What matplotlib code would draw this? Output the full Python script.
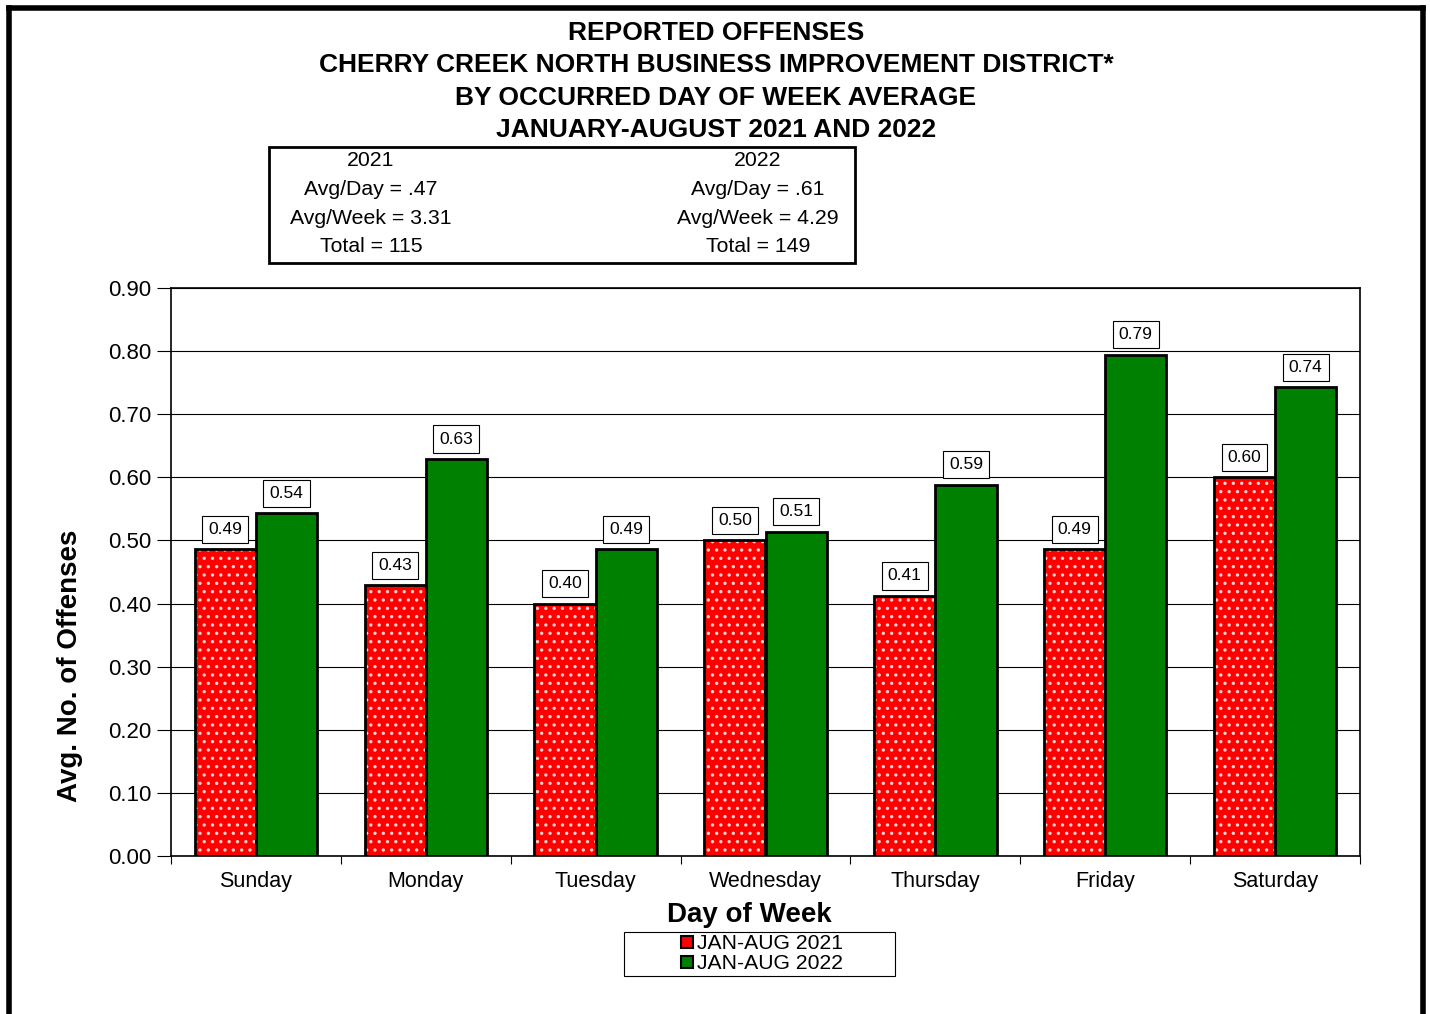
import matplotlib.pyplot as plt
import numpy as np
from matplotlib.patches import Rectangle
from matplotlib.lines import Line2D

plt.rcParams['font.family'] = ['Liberation Sans', 'DejaVu Sans']
plt.rcParams['hatch.linewidth'] = 1.2

days = ['Sunday', 'Monday', 'Tuesday', 'Wednesday', 'Thursday', 'Friday', 'Saturday']
avg_2021 = [0.486, 0.429, 0.400, 0.500, 0.412, 0.486, 0.600]
avg_2022 = [0.543, 0.629, 0.486, 0.514, 0.588, 0.794, 0.743]
yticks = [0.0, 0.1, 0.2, 0.3, 0.4, 0.5, 0.6, 0.7, 0.8, 0.9]

title_lines = ['REPORTED OFFENSES',
               'CHERRY CREEK NORTH BUSINESS IMPROVEMENT DISTRICT*',
               'BY OCCURRED DAY OF WEEK AVERAGE',
               'JANUARY-AUGUST 2021 AND 2022']
stats_2021 = ['2021', 'Avg/Day = .47', 'Avg/Week = 3.31', 'Total = 115']
stats_2022 = ['2022', 'Avg/Day = .61', 'Avg/Week = 4.29', 'Total = 149']

W, H = 1430, 1014
fig = plt.figure(figsize=(W / 100, H / 100), dpi=100)

# outer border (bottom edge runs off the page)
fig.add_artist(Line2D([8.5 / W, 8.5 / W], [0, 1 - 7.5 / H], color='black', lw=4))
fig.add_artist(Line2D([8.5 / W, 1422.5 / W], [1 - 7.5 / H, 1 - 7.5 / H], color='black', lw=4))
fig.add_artist(Line2D([1422.5 / W, 1422.5 / W], [0, 1 - 7.5 / H], color='black', lw=4))

# axes: x 171..1360, y 288..856 px
ax = fig.add_axes([171 / W, 1 - 856 / H, (1360 - 171) / W, (856 - 288) / H])

x = np.arange(len(days))
bw = 0.36
xr = x - bw / 2
xg = x + bw / 2

ax.bar(xr, avg_2021, bw, color='#ff0000', edgecolor='#ffd0d0', hatch='..', lw=0, zorder=3)
ax.bar(xr, avg_2021, bw, fill=False, edgecolor='black', lw=2, zorder=4)
ax.bar(xg, avg_2022, bw, color='#008000', edgecolor='black', lw=2, zorder=4)

bbox = dict(boxstyle='square,pad=0.35', fc='white', ec='black', lw=0.8)
for xi, v in zip(xr, avg_2021):
    ax.annotate('%.2f' % v, (xi, v), xytext=(0, 20), textcoords='offset pixels',
                ha='center', va='center', fontsize=12.5, bbox=bbox, zorder=5)
for xi, v in zip(xg, avg_2022):
    ax.annotate('%.2f' % v, (xi, v), xytext=(0, 20), textcoords='offset pixels',
                ha='center', va='center', fontsize=12.5, bbox=bbox, zorder=5)

ax.set_xlim(-0.5, len(days) - 0.5)
ax.set_ylim(0, 0.9)
ax.set_yticks(yticks)
ax.set_yticklabels(['%.2f' % t for t in yticks], fontsize=16)
ax.yaxis.grid(True, color='black', lw=0.8, zorder=0)
ax.set_axisbelow(True)
ax.set_xticks(x)
ax.set_xticklabels(days, fontsize=15.5)
ax.set_xticks(np.arange(-0.5, len(days)), minor=True)
ax.tick_params(axis='x', which='major', length=0, pad=11)
ax.tick_params(axis='x', which='minor', length=6, width=0.8, direction='out')
ax.tick_params(axis='y', length=10, width=0.8, direction='out', pad=4)
for s in ax.spines.values():
    s.set_linewidth(1.2)

# axis titles sit where the original put them (not centred on the axes)
fig.text(70 / W, 1 - 666 / H, 'Avg. No. of Offenses', rotation=90, ha='center', va='center',
         fontsize=20, fontweight='bold')
fig.text(749 / W, 1 - 915 / H, 'Day of Week', ha='center', va='center',
         fontsize=20, fontweight='bold')

# title
for i, t in enumerate(title_lines):
    fig.text(716 / W, 1 - (33 + i * 32.5) / H, t, ha='center', va='center',
             fontsize=19, fontweight='bold')

# stats box
fig.add_artist(Rectangle((269 / W, 1 - 263 / H), (855 - 269) / W, (263 - 147) / H,
                         transform=fig.transFigure, fill=False, ec='black', lw=2))
for i, (a, b) in enumerate(zip(stats_2021, stats_2022)):
    yy = 1 - (161 + i * 28.5) / H
    fig.text(371 / W, yy, a, ha='center', va='center', fontsize=15.3)
    fig.text(758 / W, yy, b, ha='center', va='center', fontsize=15.3)

# legend: wide frame drawn separately, entries centred inside
fig.add_artist(Rectangle((624 / W, 1 - 976 / H), (895 - 624) / W, (976 - 932) / H,
                         transform=fig.transFigure, fill=False, ec='black', lw=0.8))
h1 = Line2D([], [], marker='s', ls='', markersize=8.5, markerfacecolor='#ff0000',
            markeredgecolor='black', markeredgewidth=1.5)
h2 = Line2D([], [], marker='s', ls='', markersize=8.5, markerfacecolor='#008000',
            markeredgecolor='black', markeredgewidth=1.5)
leg = fig.legend([h1, h2], ['JAN-AUG 2021', 'JAN-AUG 2022'], loc='center',
                 bbox_to_anchor=(762 / W, 1 - 953.5 / H), fontsize=15.2, frameon=False,
                 handlelength=0.6, handletextpad=0.15,
                 labelspacing=0.05, borderpad=0.0, borderaxespad=0)

fig.savefig('out.png', dpi=100)
